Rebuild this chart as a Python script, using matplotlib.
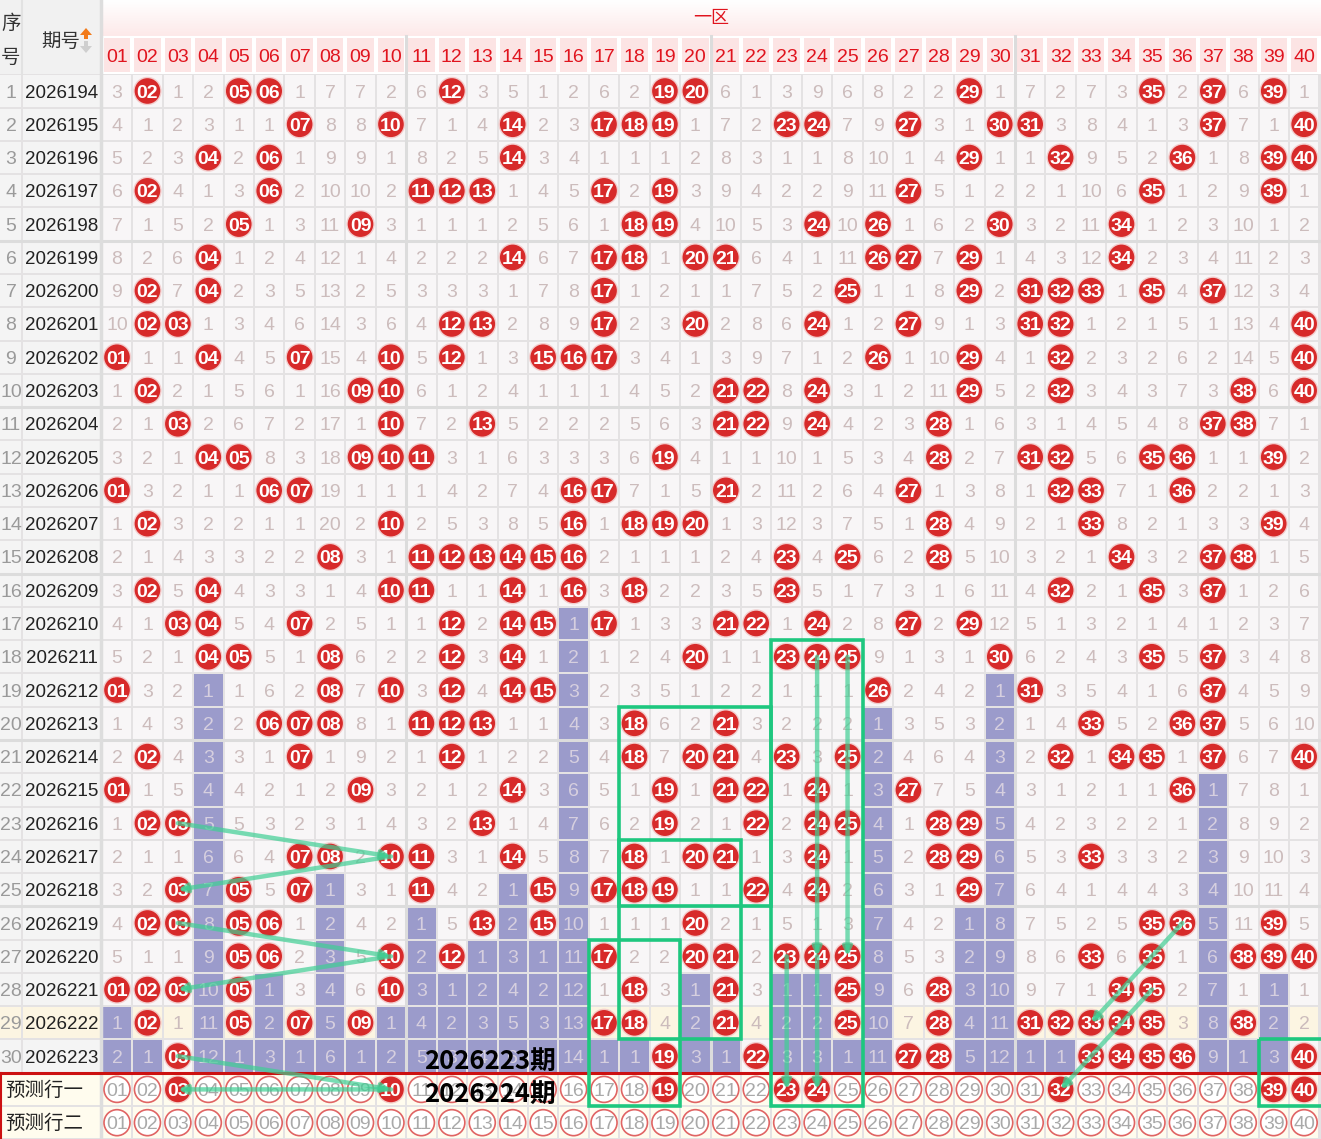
import numpy as np
import matplotlib.pyplot as plt
from matplotlib.patches import Rectangle, Circle, FancyArrowPatch, Polygon
from matplotlib.colors import LinearSegmentedColormap

plt.rcParams['font.family'] = ['Liberation Sans', 'Noto Sans CJK SC', 'DejaVu Sans']

# données du tableau
issues = ['2026194', '2026195', '2026196', '2026197', '2026198', '2026199',
          '2026200', '2026201', '2026202', '2026203', '2026204', '2026205',
          '2026206', '2026207', '2026208', '2026209', '2026210', '2026211',
          '2026212', '2026213', '2026214', '2026215', '2026216', '2026217',
          '2026218', '2026219', '2026220', '2026221', '2026222', '2026223']

draws = [
    [2, 5, 6, 12, 19, 20, 29, 35, 37, 39],
    [7, 10, 14, 17, 18, 19, 23, 24, 27, 30, 31, 37, 40],
    [4, 6, 14, 29, 32, 36, 39, 40],
    [2, 6, 11, 12, 13, 17, 19, 27, 35, 39],
    [5, 9, 18, 19, 24, 26, 30, 34],
    [4, 14, 17, 18, 20, 21, 26, 27, 29, 34],
    [2, 4, 17, 25, 29, 31, 32, 33, 35, 37],
    [2, 3, 12, 13, 17, 20, 24, 27, 31, 32, 40],
    [1, 4, 7, 10, 12, 15, 16, 17, 26, 29, 32, 40],
    [2, 9, 10, 21, 22, 24, 29, 32, 38, 40],
    [3, 10, 13, 21, 22, 24, 28, 37, 38],
    [4, 5, 9, 10, 11, 19, 28, 31, 32, 35, 36, 39],
    [1, 6, 7, 16, 17, 21, 27, 32, 33, 36],
    [2, 10, 16, 18, 19, 20, 28, 33, 39],
    [8, 11, 12, 13, 14, 15, 16, 23, 25, 28, 34, 37, 38],
    [2, 4, 10, 11, 14, 16, 18, 23, 32, 35, 37],
    [3, 4, 7, 12, 14, 15, 17, 21, 22, 24, 27, 29],
    [4, 5, 8, 12, 14, 20, 23, 24, 25, 30, 35, 37],
    [1, 8, 10, 12, 14, 15, 26, 31, 37],
    [6, 7, 8, 11, 12, 13, 18, 21, 33, 36, 37],
    [2, 7, 12, 18, 20, 21, 23, 25, 32, 34, 35, 37, 40],
    [1, 9, 14, 19, 21, 22, 24, 27, 36],
    [2, 3, 13, 19, 22, 24, 25, 28, 29],
    [7, 8, 10, 11, 14, 18, 20, 21, 24, 28, 29, 33],
    [3, 5, 7, 11, 15, 17, 18, 19, 22, 24, 29],
    [2, 3, 5, 6, 13, 15, 20, 35, 36, 39],
    [5, 6, 10, 12, 17, 20, 21, 23, 24, 25, 33, 35, 38, 39, 40],
    [1, 2, 3, 5, 10, 18, 21, 25, 28, 34, 35],
    [2, 5, 7, 9, 17, 18, 21, 25, 28, 31, 32, 33, 34, 35, 38],
    [3, 19, 22, 27, 28, 33, 34, 35, 36, 40],
]

# omissions de la première ligne (0 = sorti)
first_miss = [3, 0, 1, 2, 0, 0, 1, 7, 7, 2,
              6, 0, 3, 5, 1, 2, 6, 2, 0, 0,
              6, 1, 3, 9, 6, 8, 2, 2, 0, 1,
              7, 2, 7, 3, 0, 2, 0, 6, 0, 1]

pred_labels = ['预测行一', '预测行二']
pred1_picks = [3, 10, 19, 23, 24, 32, 39, 40]
highlight_row = 29
overlay_texts = ['2026223期', '2026224期']

# annotations vertes (colonne, ligne) ; ligne 31 = 预测行一
green_boxes = [(23, 25, 18, 31), (18, 22, 20, 25), (18, 21, 24, 29),
               (17, 19, 27, 31), (39, 41, 30, 31)]
green_arrows = [((3, 23), (10, 24)), ((10, 24), (3, 25)),
                ((3, 26), (10, 27)), ((10, 27), (3, 28)),
                ((3, 30), (10, 31)), ((10, 31), (3, 31)),
                ((24, 18), (24, 27)), ((25, 18), (25, 27)),
                ((23, 27), (23, 31)), ((24, 27), (24, 31)),
                ((36, 26), (33, 29)), ((35, 28), (32, 31))]

n_rows = len(issues)
n_cols = 40

# géométrie en pixels
W, H = 1321, 1139
col_w = 30.44
row_h = 33.28
x0 = 117.0
y0 = 91.0
TY = 2.0  # décalage vertical du texte
def cx(c):
    return x0 + (c - 1) * col_w
def cy(r):
    return y0 + (r - 1) * row_h

# calcul des omissions
miss = np.zeros((n_rows, n_cols), dtype=int)
hit = np.zeros((n_rows, n_cols), dtype=bool)
for r, row in enumerate(draws):
    for n in row:
        hit[r, n - 1] = True
for r in range(n_rows):
    for c in range(n_cols):
        if hit[r, c]:
            miss[r, c] = 0
        elif r == 0:
            miss[r, c] = first_miss[c]
        else:
            miss[r, c] = miss[r - 1, c] + 1
last_hit = [max([r for r in range(n_rows) if hit[r, c]] + [-1]) for c in range(n_cols)]

fig = plt.figure(figsize=(W / 100, H / 100), dpi=100)
ax = fig.add_axes([0, 0, 1, 1])
ax.set_xlim(0, W)
ax.set_ylim(H, 0)
ax.axis('off')

grid_col = '#e4e2e3'
ax.add_patch(Rectangle((0, 0), W, H, fc=grid_col, ec='none', zorder=0))

# en-tête
ax.add_patch(Rectangle((0, 0), 101, 74, fc='#f1f1f1', ec='none', zorder=0.5))
ax.plot([22, 22], [0, 74], color='#e2e2e2', lw=1.5, zorder=0.6)
grad = LinearSegmentedColormap.from_list('g', ['#ffffff', '#fde9e9'])
ax.imshow(np.linspace(0, 1, 60).reshape(-1, 1), cmap=grad, extent=[102, W, 36, 0],
          aspect='auto', zorder=0.5)
ax.set_xlim(0, W)
ax.set_ylim(H, 0)
ax.add_patch(Rectangle((102, 36), W - 102, 38, fc='white', ec='none', zorder=0.5))
ax.text(711, 16 + TY, '一区', color='#e0141e', fontsize=13, ha='center', va='center', zorder=3)
ax.text(11, 22 + TY, '序', color='#333333', fontsize=14, ha='center', va='center', zorder=3)
ax.text(11, 56 + TY, '号', color='#333333', fontsize=14, ha='center', va='center', zorder=3)
ax.text(61, 40 + TY, '期号', color='#333333', fontsize=14, ha='center', va='center', zorder=3)
ax.add_patch(Polygon([[80, 35], [92, 35], [86, 28]], fc='#f27a1a', ec='none', zorder=3))
ax.add_patch(Rectangle((84, 34), 4, 5, fc='#f27a1a', ec='none', zorder=3))
ax.add_patch(Polygon([[80, 46], [92, 46], [86, 53]], fc='#cfcfcf', ec='none', zorder=3))
ax.add_patch(Rectangle((84, 41), 4, 5, fc='#cfcfcf', ec='none', zorder=3))
for c in range(1, n_cols + 1):
    ax.add_patch(Rectangle((cx(c) - col_w / 2 + 2, 38), col_w - 4, 34,
                           fc='#fce4e4', ec='none', zorder=1))
    ax.text(cx(c), 55 + TY, f'{c:02d}', color='#e0141e', fontsize=14,
            ha='center', va='center', zorder=3)

def ball(x, y, label, filled=True):
    if filled:
        ax.add_patch(Circle((x, y), 14.2, fc='#f1bcbc', ec='none', alpha=0.7, zorder=4))
        ax.add_patch(Circle((x, y), 12.8, fc='#d72a2a', ec='none', zorder=4.5))
        ax.text(x, y + TY, label, color='white', fontsize=14, fontweight='bold',
                ha='center', va='center', zorder=5)
    else:
        ax.add_patch(Circle((x, y), 13, fc='white', ec='#e06464', lw=1.2, zorder=4.5))
        ax.text(x, y + TY, label, color='#a9a9a9', fontsize=14,
                ha='center', va='center', zorder=5)

# lignes de données
for r in range(n_rows):
    yc = cy(r + 1)
    top = yc - row_h / 2
    row_bg = '#fcf5e2' if r + 1 == highlight_row else '#f8f6f7'
    left_bg = '#fcf5e2' if r + 1 == highlight_row else '#f4f4f4'
    ax.add_patch(Rectangle((0, top + 1), 21, row_h - 2, fc=left_bg, ec='none', zorder=1))
    ax.add_patch(Rectangle((23, top + 1), 77, row_h - 2, fc=left_bg, ec='none', zorder=1))
    ax.text(11, yc + TY, str(r + 1), color='#9a9a9a', fontsize=14,
            ha='center', va='center', zorder=3)
    ax.text(62, yc + TY, issues[r], color='#222222', fontsize=13.5,
            ha='center', va='center', zorder=3)
    for c in range(n_cols):
        xc = cx(c + 1)
        purple = r > last_hit[c]
        fc = '#9b9bcb' if purple else row_bg
        ax.add_patch(Rectangle((xc - col_w / 2 + 1, top + 1), col_w - 2, row_h - 2,
                               fc=fc, ec='none', zorder=1))
        if hit[r, c]:
            ball(xc, yc, f'{c + 1:02d}')
        else:
            ax.text(xc, yc + TY, str(miss[r, c]),
                    color='#d6cfdf' if purple else '#ccbcbc', fontsize=14,
                    ha='center', va='center', zorder=3)

# séparateurs
for k in range(5, n_rows, 5):
    yb = cy(k) + row_h / 2
    ax.plot([0, W], [yb, yb], color='#dcdcdc', lw=2.2, zorder=2)
for k in (10, 20, 30):
    xb = cx(k) + col_w / 2
    ax.plot([xb, xb], [36, cy(n_rows) + row_h / 2], color='#dcdcdc', lw=2.2, zorder=2)
ax.plot([101, 101], [0, H], color='#dddddd', lw=2.5, zorder=2)

# lignes de prévision
for p, lab in enumerate(pred_labels):
    yc = cy(n_rows + 1 + p)
    top = yc - row_h / 2
    ax.add_patch(Rectangle((0, top + 1), 100, row_h - 2, fc='#fffcee', ec='none', zorder=1))
    ax.text(5, yc + 1, lab, color='#222222', fontsize=14, ha='left', va='center', zorder=3)
    for c in range(n_cols):
        xc = cx(c + 1)
        ax.add_patch(Rectangle((xc - col_w / 2 + 1, top + 1), col_w - 2, row_h - 2,
                               fc='#fffcee', ec='none', zorder=1))
        ball(xc, yc, f'{c + 1:02d}', filled=(p == 0 and (c + 1) in pred1_picks))
ysep = cy(n_rows) + row_h / 2
ax.plot([0, W], [ysep, ysep], color='#cc1111', lw=2.2, zorder=6)
ax.plot([1, 1], [ysep, H], color='#cc1111', lw=1.5, zorder=6)

# annotations vertes
for c0, c1, r0, r1 in green_boxes:
    xl = cx(c0) - col_w / 2
    xr = cx(c1) + col_w / 2
    yt = cy(r0) - row_h / 2
    yb = cy(r1) + row_h / 2
    ax.add_patch(Rectangle((xl, yt), xr - xl, yb - yt, fc='none', ec='#1ec77f',
                           lw=2.6, zorder=8))
for (c0, r0), (c1, r1) in green_arrows:
    ax.add_patch(FancyArrowPatch((cx(c0), cy(r0)), (cx(c1), cy(r1)),
                                 arrowstyle='-|>', mutation_scale=12, color='#3fcf94',
                                 alpha=0.7, lw=3.2, shrinkA=0, shrinkB=0, zorder=7))

for k, t in enumerate(overlay_texts):
    ax.text(490, cy(n_rows + k) + 5, t, color='black', fontsize=18.5, fontweight='bold',
            family=['Noto Sans CJK SC', 'DejaVu Sans'], ha='center', va='center', zorder=9)

fig.savefig('out.png', dpi=100)
